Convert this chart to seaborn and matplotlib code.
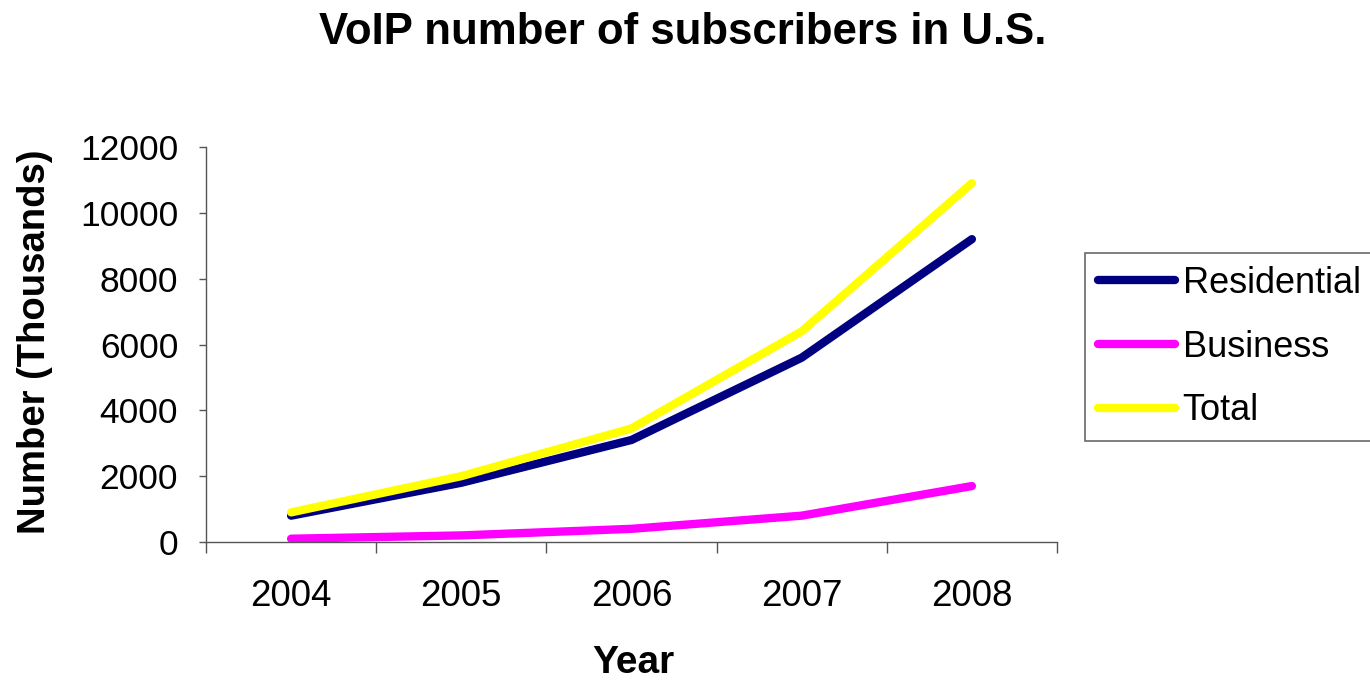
import matplotlib
matplotlib.use("Agg")
import matplotlib.pyplot as plt
import seaborn as sns
import pandas as pd
from matplotlib.ticker import FixedLocator

years = ["2004", "2005", "2006", "2007", "2008"]
residential = [800, 1800, 3100, 5600, 9200]
business = [100, 200, 400, 800, 1700]
total = [900, 2000, 3450, 6400, 10900]
series_names = ["Residential", "Business", "Total"]
colors = ["#000080", "#FF00FF", "#FFFF00"]

df = pd.DataFrame({
    "Year": years * 3,
    "Value": residential + business + total,
    "Series": [series_names[0]] * 5 + [series_names[1]] * 5 + [series_names[2]] * 5,
})

sns.set_theme(style="white")
plt.rcParams['font.family'] = ['Liberation Sans', 'DejaVu Sans']
plt.rcParams['text.color'] = 'black'
plt.rcParams['axes.labelcolor'] = 'black'
plt.rcParams['xtick.color'] = 'black'
plt.rcParams['ytick.color'] = 'black'

fig = plt.figure(figsize=(13.7, 6.83), dpi=100)
ax = fig.add_axes([206/1370, 1-542/683, (1057-206)/1370, (542-147)/683])

sns.lineplot(data=df, x="Year", y="Value", hue="Series", hue_order=series_names,
             palette=colors, linewidth=6, sort=False, ax=ax, legend=False,
             solid_capstyle="round")

ax.set_xlim(-0.5, 4.5)
ax.set_ylim(0, 12000)
ax.set_yticks(range(0, 12001, 2000))
ax.set_xticks(range(5))
ax.set_xticklabels(years)
ax.xaxis.set_minor_locator(FixedLocator([-0.5, 0.5, 1.5, 2.5, 3.5, 4.5]))

for s in ["top", "right"]:
    ax.spines[s].set_visible(False)
for s in ["left", "bottom"]:
    ax.spines[s].set_color("#555555")
    ax.spines[s].set_linewidth(1.0)

ax.tick_params(axis="y", which="major", direction="out", length=5, width=1,
               color="#555555", labelcolor="black", labelsize=25.5, pad=15, left=True)
ax.tick_params(axis="x", which="major", length=0, labelsize=26.5, labelcolor="black", pad=27)
ax.tick_params(axis="x", which="minor", direction="out", length=8, width=1,
               color="#555555", bottom=True)

ax.set_xlabel("Year", fontsize=28, fontweight="bold", va="center", color="black")
ax.xaxis.set_label_coords(0.502, -0.306)
ax.set_ylabel("Number (Thousands)", fontsize=27.5, fontweight="bold", va="center", color="black")
ax.yaxis.set_label_coords(-0.201, 0.506)

fig.suptitle("VoIP number of subscribers in U.S.", fontsize=31.5, fontweight="bold",
             x=0.4985, y=1-33/683, va="center", color="black")

handles = ax.get_lines()[:3]
leg = fig.legend(handles, series_names, loc="upper left",
                 bbox_to_anchor=(1085/1370, 1-253/683), fontsize=26,
                 frameon=True, fancybox=False, shadow=False,
                 handlelength=2.15, handletextpad=0.2, labelspacing=0.8,
                 borderpad=0.35, borderaxespad=0)
leg.get_frame().set_edgecolor("#444444")
leg.get_frame().set_linewidth(1.2)
for t in leg.get_texts():
    t.set_color("black")
for h in leg.get_lines():
    h.set_linewidth(6)
    h.set_solid_capstyle("round")

fig.savefig("out.png", dpi=100)
